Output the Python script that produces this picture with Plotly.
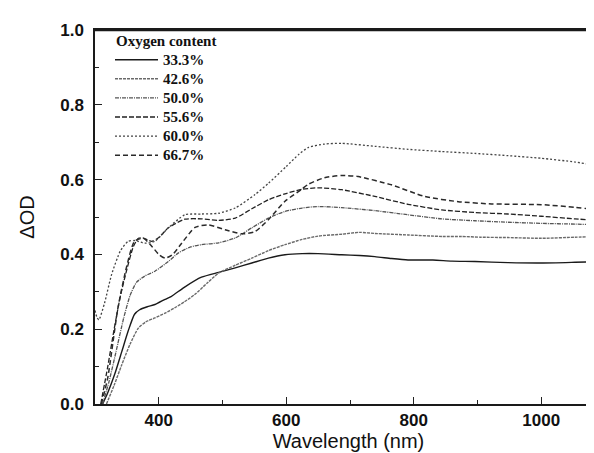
import plotly.graph_objects as go

# ---- data ----
labels = ["33.3%", "42.6%", "50.0%", "55.6%", "60.0%", "66.7%"]
legend_title = "Oxygen content"

wl_333 = [312, 320, 331, 342, 352, 362, 370, 382, 394, 410, 420, 440, 467, 494, 520, 546, 572, 598, 625, 650,
          687, 715, 739, 765, 791, 830, 860, 896, 948, 1000, 1053, 1096]
od_333 = [0.0, 0.03, 0.08, 0.14, 0.195, 0.24, 0.252, 0.26, 0.266, 0.28, 0.288, 0.312, 0.339, 0.352, 0.364, 0.377,
          0.390, 0.399, 0.402, 0.402, 0.399, 0.397, 0.394, 0.389, 0.385, 0.385, 0.382, 0.381, 0.378, 0.377, 0.379, 0.381]

wl_426 = [318, 330, 342, 355, 368, 380, 394, 410, 425, 440, 456, 477, 494, 520, 546, 572, 598, 625, 650, 687,
          715, 739, 791, 845, 875, 905, 948, 1000, 1053, 1096]
od_426 = [0.0, 0.05, 0.105, 0.16, 0.203, 0.22, 0.230, 0.243, 0.257, 0.273, 0.292, 0.325, 0.350, 0.371, 0.390,
          0.41, 0.426, 0.44, 0.449, 0.454, 0.459, 0.456, 0.452, 0.448, 0.448, 0.446, 0.445, 0.443, 0.446, 0.448]

wl_500 = [312, 322, 333, 345, 355, 365, 378, 394, 415, 431, 450, 467, 494, 520, 546, 572, 598, 625, 650, 687,
          739, 791, 844, 896, 948, 1000, 1053, 1096]
od_500 = [0.0, 0.06, 0.14, 0.23, 0.29, 0.325, 0.342, 0.355, 0.381, 0.404, 0.42, 0.426, 0.431, 0.444, 0.471,
          0.497, 0.515, 0.524, 0.528, 0.525, 0.517, 0.506, 0.495, 0.490, 0.486, 0.483, 0.481, 0.479]

wl_556 = [309, 320, 330, 340, 350, 360, 368, 375, 389, 400, 415, 441, 467, 494, 520, 546, 572, 598, 625, 650,
          687, 739, 791, 844, 896, 948, 1000, 1053, 1096]
od_556 = [0.0, 0.10, 0.20, 0.29, 0.36, 0.42, 0.443, 0.444, 0.435, 0.445, 0.471, 0.494, 0.495, 0.491, 0.497,
          0.522, 0.546, 0.562, 0.574, 0.578, 0.573, 0.555, 0.534, 0.519, 0.512, 0.508, 0.502, 0.495, 0.49]

wl_600 = [300, 303, 306, 315, 326, 340, 352, 363, 378, 394, 415, 441, 467, 494, 520, 551, 572, 600, 620, 635,
          660, 687, 739, 791, 844, 896, 948, 1000, 1053, 1096]
od_600 = [0.25, 0.232, 0.225, 0.27, 0.346, 0.41, 0.435, 0.437, 0.430, 0.435, 0.471, 0.506, 0.508, 0.510, 0.524,
          0.56, 0.59, 0.635, 0.668, 0.686, 0.695, 0.697, 0.689, 0.681, 0.675, 0.670, 0.664, 0.657, 0.647, 0.635]

wl_667 = [310, 320, 336, 350, 362, 376, 390, 400, 410, 422, 436, 457, 478, 504, 530, 551, 572, 598, 624, 635,
          660, 687, 713, 765, 817, 870, 922, 1000, 1053, 1096]
od_667 = [0.0, 0.07, 0.257, 0.37, 0.435, 0.443, 0.42, 0.40, 0.39, 0.40, 0.43, 0.472, 0.479, 0.466, 0.455,
          0.461, 0.493, 0.542, 0.574, 0.588, 0.605, 0.611, 0.608, 0.586, 0.555, 0.541, 0.535, 0.533, 0.526, 0.517]

styles = [
    ("#1a1a1a", "solid", 1.4),
    ("#6a6a6a", "3px,1px", 1.4),
    ("#555555", "4px,1px,1px,1px", 1.3),
    ("#222222", "5px,2px", 1.3),
    ("#444444", "2px,2px", 1.3),
    ("#2a2a2a", "5px,3px", 1.5),
]
xs = [wl_333, wl_426, wl_500, wl_556, wl_600, wl_667]
ys = [od_333, od_426, od_500, od_556, od_600, od_667]

W, H = 594, 453
ML, MR, MT, MB = 87, 0, 22, 57
PW, PH = W - ML - MR, H - MT - MB


def px_x(px):
    return (px - ML) / PW


def px_y(py):
    return 1 - (py - MT) / PH


fig = go.Figure()
for x, y, (c, d, w), name in zip(xs, ys, styles, labels):
    fig.add_trace(go.Scatter(x=x, y=y, mode="lines", name=name, showlegend=False,
                             line=dict(color=c, dash=d, width=w, shape="spline", smoothing=0.6)))

# in-plot legend block (as in the reference)
legfont = dict(family="Liberation Serif", size=15, color="#111111", weight="bold")
annotations = [dict(text=legend_title, x=px_x(106), y=px_y(32.5), xref="paper", yref="paper",
                    xanchor="left", yanchor="middle", showarrow=False, font=legfont)]
shapes = [dict(type="line", xref="paper", yref="paper", x0=0, x1=1, y0=0.999, y1=0.999, layer="above",
               line=dict(color="#1a1a1a", width=1.8))]
for i, ((c, d, w), name) in enumerate(zip(styles, labels)):
    yy = px_y(51.7 + 19.1 * i)
    shapes.append(dict(type="line", xref="paper", yref="paper", x0=px_x(107), x1=px_x(150), y0=yy, y1=yy,
                       line=dict(color=c, dash=d, width=w)))
    annotations.append(dict(text=name, x=px_x(153), y=yy, xref="paper", yref="paper",
                            xanchor="left", yanchor="middle", showarrow=False, font=legfont))

tickfont = dict(family="Liberation Sans", size=17, color="#111111", weight="bold")
fig.update_layout(
    width=W, height=H,
    margin=dict(l=ML, r=MR, t=MT, b=MB, autoexpand=False),
    plot_bgcolor="white", paper_bgcolor="white",
    showlegend=False,
    annotations=annotations, shapes=shapes,
    xaxis=dict(
        range=[300, 300 + PW / 0.6375], tickmode="linear", tick0=0, dtick=200,
        ticks="inside", ticklen=7, tickwidth=1.2, tickcolor="#222",
        minor=dict(dtick=100, tick0=0, ticks="inside", ticklen=4, tickwidth=1.2, tickcolor="#222"),
        showline=True, linecolor="#1a1a1a", linewidth=1.5, mirror=True,
        showgrid=False, zeroline=False, tickfont=tickfont,
        title=dict(text="Wavelength (nm)", font=dict(family="Liberation Sans", size=20, color="#111"), standoff=2),
    ),
    yaxis=dict(
        range=[0, 1.0], tickmode="linear", tick0=0, dtick=0.2, tickformat=".1f",
        ticks="inside", ticklen=7, tickwidth=1.2, tickcolor="#222",
        minor=dict(dtick=0.1, tick0=0, ticks="inside", ticklen=4, tickwidth=1.2, tickcolor="#222"),
        showline=True, linecolor="#1a1a1a", linewidth=1.5,
        showgrid=False, zeroline=False, tickfont=tickfont, ticklabelstandoff=6,
        title=dict(text="ΔOD", font=dict(family="Liberation Sans", size=20, color="#111"), standoff=20),
    ),
)

fig.write_html("out.html")
